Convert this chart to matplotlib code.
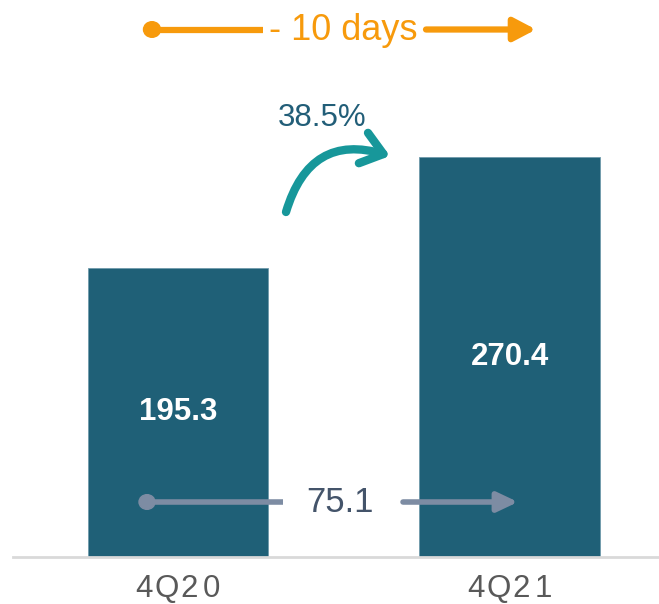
import matplotlib
matplotlib.use("Agg")
import matplotlib.pyplot as plt
from matplotlib.patches import FancyArrowPatch, Circle

plt.rcParams["font.family"] = ["Liberation Sans", "DejaVu Sans"]

# Data
quarters = ["4Q20", "4Q21"]
values = [195.3, 270.4]
days_label = "- 10 days"

growth_pct = (values[1] / values[0] - 1) * 100
delta = values[1] - values[0]

W, H = 659, 604
fig = plt.figure(figsize=(W / 100, H / 100), dpi=100)
fig.patch.set_facecolor("white")

base_px = 556.5
ax = fig.add_axes([13 / W, (H - base_px) / H, 1 - 13 / W, base_px / H])
ax.set_ylim(0, base_px / 1.479)
ax.set_xlim(-(178 - 13) / 331.5, 1 + (W - 509.5) / 331.5)

bar_color = "#1F6077"
xs = list(range(len(quarters)))
bars = ax.bar(xs, values, width=0.546, color=bar_color, edgecolor="#6F9AAB",
              linewidth=0.6, zorder=2)

for spine in ["top", "right", "left"]:
    ax.spines[spine].set_visible(False)
ax.spines["bottom"].set_color("#D9D9D9")
ax.spines["bottom"].set_linewidth(2.0)
ax.set_yticks([])
ax.set_xticks(xs)
ax.set_xticklabels([])
ax.tick_params(axis="x", length=0)

# Category labels with a little letter spacing
for x, lab in zip(xs, quarters):
    n = len(lab)
    step = 0.068
    for i, ch in enumerate(lab):
        ax.text(x + (i - (n - 1) / 2) * step, -22.3, ch, ha="center", va="center",
                fontsize=22.5, color="#595959", clip_on=False)

# Value labels inside bars
label_y = [412, 357]
for x, v, py in zip(xs, values, label_y):
    ax.text(x, (base_px - py) / 1.479, f"{v:.1f}", ha="center", va="center",
            fontsize=22.5, fontweight="bold", color="white", zorder=3)


def fpx(x, y):
    """Pixel position (from top-left) to figure fraction."""
    return (x / W, 1 - y / H)


# Orange timeline at the top
orange = "#F79A0C"
fig.add_artist(plt.Line2D([152 / W, 263 / W], [1 - 29.5 / H] * 2, color=orange,
                          lw=4.5, solid_capstyle="butt"))
fig.add_artist(Circle(fpx(152, 29.5), radius=8.5 / W, color=orange,
                      transform=fig.transFigure))
fig.text(*fpx(343, 31), days_label, ha="center", va="center", fontsize=26,
         color=orange)
fig.add_artist(FancyArrowPatch(fpx(426, 29.5), fpx(536, 29.5),
                               transform=fig.transFigure,
                               arrowstyle="-|>,head_length=0.95,head_width=0.5",
                               mutation_scale=14, color=orange, lw=4.5,
                               shrinkA=0, shrinkB=0))

# Growth arrow
teal = "#17979A"
fig.add_artist(FancyArrowPatch(fpx(286, 212), fpx(390, 156),
                               transform=fig.transFigure,
                               connectionstyle="arc3,rad=-0.5",
                               arrowstyle="->,head_length=0.5,head_width=0.38",
                               mutation_scale=30, color=teal, lw=6,
                               capstyle="round", joinstyle="round",
                               shrinkA=0, shrinkB=0))
fig.text(*fpx(322, 118), f"{growth_pct:.1f}%", ha="center", va="center",
         fontsize=22.5, color="#225E78")

# Difference arrow across the bars
grey = "#7D8CA3"
fig.add_artist(plt.Line2D([147 / W, 283 / W], [1 - 502 / H] * 2, color=grey,
                          lw=4, solid_capstyle="butt", zorder=5))
fig.add_artist(Circle(fpx(147, 502), radius=8 / W, color=grey,
                      transform=fig.transFigure, zorder=5))
fig.add_artist(plt.Rectangle(fpx(283, 530), 120 / W, 56 / H, color="white",
                             transform=fig.transFigure, zorder=4))
fig.text(*fpx(340, 503), f"{delta:.1f}", ha="center", va="center", fontsize=25,
         color="#44546A", zorder=6)
fig.add_artist(FancyArrowPatch(fpx(403, 502), fpx(518, 502),
                               transform=fig.transFigure,
                               arrowstyle="-|>,head_length=0.95,head_width=0.45",
                               mutation_scale=13, color=grey, lw=4,
                               shrinkA=0, shrinkB=0, zorder=5))

fig.savefig("out.png", dpi=100, facecolor="white")
